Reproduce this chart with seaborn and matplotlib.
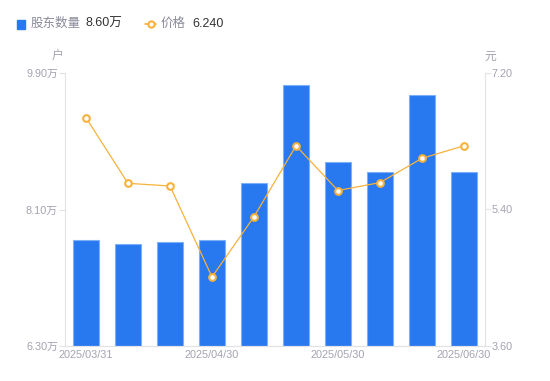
import matplotlib
matplotlib.use("Agg")
import matplotlib.pyplot as plt
import pandas as pd
import seaborn as sns
from matplotlib.lines import Line2D
from matplotlib.patches import Rectangle

dates = ["2025/03/31", "2025/04/10", "2025/04/20", "2025/04/30", "2025/05/10",
         "2025/05/20", "2025/05/30", "2025/06/10", "2025/06/20", "2025/06/30"]
holders = [7.70, 7.645, 7.67, 7.70, 8.45, 9.74, 8.73, 8.59, 9.61, 8.60]  # 万户
price = [6.61, 5.745, 5.71, 4.51, 5.305, 6.24, 5.65, 5.755, 6.075, 6.24]
tick_dates = ["2025/03/31", "2025/04/30", "2025/05/30", "2025/06/30"]
left_ticks = [6.30, 8.10, 9.90]
right_ticks = [3.60, 5.40, 7.20]

BLUE = "#2878f0"
ORANGE = "#f7b23b"
GRAY = "#a3a3b0"
AXIS = "#e3e3e6"

sns.set_style("white")
plt.rcParams["font.family"] = ["Liberation Sans", "Noto Sans CJK SC", "DejaVu Sans"]

df = pd.DataFrame({"date": dates, "holders": holders, "price": price})

fig = plt.figure(figsize=(5.5, 3.81), dpi=100)
ax = fig.add_axes([65 / 550, 1 - 346 / 381, 420 / 550, 273 / 381])

sns.barplot(data=df, x="date", y="holders", ax=ax, color=BLUE, width=0.6,
            saturation=1, edgecolor="#7fb0f7", linewidth=0.8)
ax.set_ylim(6.30, 9.90)
ax.set_yticks(left_ticks)
ax.set_yticklabels([f"{v:.2f}万" for v in left_ticks])
ax.set_xlim(-0.5, len(dates) - 0.5)

ax2 = ax.twinx()
sns.lineplot(data=df, x="date", y="price", ax=ax2, color=ORANGE, linewidth=0.9,
             marker="o", markersize=4.8, markerfacecolor="white",
             markeredgecolor=ORANGE, markeredgewidth=1.5)
ax2.set_ylim(3.60, 7.20)
ax2.set_yticks(right_ticks)
ax2.set_yticklabels([f"{v:.2f}" for v in right_ticks])

ax.set_xticks([dates.index(d) for d in tick_dates])
ax.set_xticklabels(tick_dates)
ax.set_xlabel("")
ax.set_ylabel("")
ax2.set_xlabel("")
ax2.set_ylabel("")

for a in (ax, ax2):
    for s in a.spines.values():
        s.set_color(AXIS)
        s.set_linewidth(0.8)
    a.spines["top"].set_visible(False)
    a.tick_params(colors=GRAY, labelsize=7.8, length=4, width=0.8)
    a.tick_params(axis="y", color=AXIS, pad=1)
    a.grid(False)
ax.tick_params(axis="x", length=0, pad=3)
ax.spines["right"].set_visible(False)
ax2.spines["left"].set_visible(False)

# unit labels
fig.text(58 / 550, 1 - 57 / 381, "户", color=GRAY, fontsize=8.5, ha="center", va="center")
fig.text(490 / 550, 1 - 57 / 381, "元", color=GRAY, fontsize=8.5, ha="center", va="center")

# legend header
fig.patches.append(Rectangle((17 / 550, 1 - 29 / 381), 8 / 550, 9 / 381,
                             transform=fig.transFigure, color=BLUE, figure=fig))
fig.text(31 / 550, 1 - 24 / 381, "股东数量", color="#8a8a99", fontsize=9, va="center")
fig.text(85 / 550, 1 - 24 / 381, f"{holders[-1]:.2f}万", color="#333333", fontsize=9, va="center")
fig.add_artist(Line2D([145 / 550, 156 / 550], [1 - 24 / 381] * 2, transform=fig.transFigure,
                      color=ORANGE, linewidth=1.2))
fig.add_artist(Line2D([150.5 / 550], [1 - 24 / 381], transform=fig.transFigure,
                      color=ORANGE, marker="o", markersize=4.5, markerfacecolor="white",
                      markeredgewidth=1.5, linestyle="none"))
fig.text(161 / 550, 1 - 24 / 381, "价格", color="#8a8a99", fontsize=9, va="center")
fig.text(192 / 550, 1 - 24 / 381, f"{price[-1]:.3f}", color="#333333", fontsize=9, va="center")

fig.savefig("out.png", dpi=100)
plt.close(fig)
